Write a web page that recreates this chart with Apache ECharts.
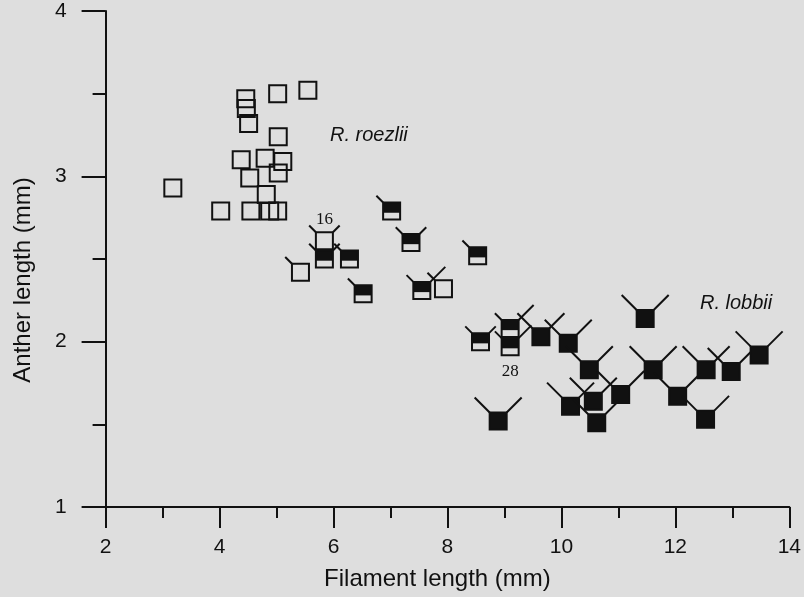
<!DOCTYPE html>
<html>
<head>
<meta charset="utf-8">
<script src="https://cdn.jsdelivr.net/npm/echarts@6/dist/echarts.min.js"></script>
<style>
html,body{margin:0;padding:0;background:#dedede}
#main{width:804px;height:597px}
</style>
</head>
<body>
<div id="main"></div>
<script>
// R. roezlii - open squares (left/right = relative whisker length, 0 = none)
var roezliiX = [4.46, 4.47, 4.51, 5.02, 5.55, 5.03, 4.38, 4.80, 5.11, 5.03, 4.53, 3.18, 4.82, 4.02, 4.55, 4.88, 5.02, 5.84, 5.42, 7.93];
var roezliiY = [3.47, 3.41, 3.32, 3.50, 3.52, 3.24, 3.10, 3.11, 3.09, 3.02, 2.99, 2.93, 2.89, 2.79, 2.79, 2.79, 2.79, 2.61, 2.42, 2.32];
var roezliiL = [0, 0, 0, 0, 0, 0, 0, 0, 0, 0, 0, 0, 0, 0, 0, 0, 0, 0.45, 0.45, 0.5];
var roezliiR = [0, 0, 0, 0, 0, 0, 0, 0, 0, 0, 0, 0, 0, 0, 0, 0, 0, 0.45, 0, 0];
var roezliiTag = ['', '', '', '', '', '', '', '', '', '', '', '', '', '', '', '', '', '16', '', ''];

// intermediates - half filled squares
var hybridX = [5.84, 6.28, 7.02, 7.36, 6.52, 7.55, 8.53, 8.58, 9.10, 9.10];
var hybridY = [2.50, 2.50, 2.79, 2.60, 2.29, 2.31, 2.52, 2.00, 2.08, 1.97];
var hybridL = [0.45, 0.45, 0.45, 0.45, 0.45, 0.45, 0.45, 0.45, 0.45, 0.45];
var hybridR = [0.45, 0, 0, 0.45, 0, 1.0, 0, 0.45, 1.0, 0.85];
var hybridTag = ['', '', '', '', '', '', '', '', '', '28'];

// R. lobbii - filled squares
var lobbiiX = [8.89, 9.64, 10.12, 10.49, 10.16, 10.56, 10.62, 11.04, 11.47, 11.61, 12.04, 12.54, 12.98, 13.47, 12.53];
var lobbiiY = [1.52, 2.03, 1.99, 1.83, 1.61, 1.64, 1.51, 1.68, 2.14, 1.83, 1.67, 1.83, 1.82, 1.92, 1.53];
var lobbiiL = [1, 1, 1, 1, 1, 1, 1, 1, 1, 1, 1, 1, 1, 1, 1];
var lobbiiR = [1, 1, 1, 1, 1, 1, 1, 1, 1, 1, 1, 1, 1, 1, 1];

var xTicks = [2, 4, 6, 8, 10, 12, 14];
var yTicks = [1, 2, 3, 4];

var INK = '#111';
var SIZE = 17;   // square side in px
var ARM = 15;    // full whisker length (px in x and y)

function rows(xs, ys, ls, rs) {
  var out = [];
  for (var i = 0; i < xs.length; i++) out.push([xs[i], ys[i], ls[i], rs[i]]);
  return out;
}

function glyph(kind, tags, tagDy) {
  return function (params, api) {
    var c = api.coord([api.value(0), api.value(1)]);
    var x0 = c[0] - SIZE / 2, y0 = c[1] - SIZE / 2;
    var l = api.value(2), r = api.value(3);
    var kids = [];
    var ls = {stroke: INK, lineWidth: 2};
    if (l > 0) kids.push({type: 'line', shape: {x1: x0, y1: y0, x2: x0 - l * ARM, y2: y0 - l * ARM}, style: ls});
    if (r > 0) kids.push({type: 'line', shape: {x1: x0 + SIZE, y1: y0, x2: x0 + SIZE + r * ARM, y2: y0 - r * ARM}, style: ls});
    if (kind === 'half') {
      kids.push({type: 'rect', shape: {x: x0, y: y0, width: SIZE, height: SIZE * 0.6}, style: {fill: INK}});
    }
    kids.push({type: 'rect', shape: {x: x0, y: y0, width: SIZE, height: SIZE},
      style: {fill: kind === 'full' ? INK : 'none', stroke: INK, lineWidth: 2}});
    var t = tags ? tags[params.dataIndex] : '';
    if (t) {
      kids.push({type: 'text', x: c[0], y: c[1] + tagDy,
        style: {text: t, fill: INK, font: '17px "Liberation Serif"', align: 'center', verticalAlign: 'middle'}});
    }
    return {type: 'group', children: kids};
  };
}

var chart = echarts.init(document.getElementById('main'));

var option = {
  backgroundColor: '#dedede',
  animation: false,
  grid: {left: 105.6, right: 6, top: 11, bottom: 90},
  xAxis: {
    type: 'value', min: xTicks[0], max: xTicks[xTicks.length - 1], interval: 2,
    name: 'Filament length (mm)', nameLocation: 'middle', nameGap: 60,
    nameTextStyle: {fontSize: 24, color: INK, fontFamily: 'Liberation Sans', padding: [0, 20, 0, 0]},
    axisLine: {show: true, onZero: false, lineStyle: {color: INK, width: 2}},
    axisTick: {show: true, length: 21, lineStyle: {color: INK, width: 2}},
    minorTick: {show: true, splitNumber: 2, length: 11, lineStyle: {color: INK, width: 2}},
    splitLine: {show: false},
    axisLabel: {fontSize: 21, color: INK, margin: 30, fontFamily: 'Liberation Sans'}
  },
  yAxis: {
    type: 'value', min: yTicks[0], max: yTicks[yTicks.length - 1], interval: 1,
    name: 'Anther length (mm)', nameLocation: 'middle', nameGap: 70,
    nameTextStyle: {fontSize: 24, color: INK, fontFamily: 'Liberation Sans', padding: [0, 42, 0, 0]},
    axisLine: {show: true, onZero: false, lineStyle: {color: INK, width: 2}},
    axisTick: {show: true, length: 24, lineStyle: {color: INK, width: 2}},
    minorTick: {show: true, splitNumber: 2, length: 13, lineStyle: {color: INK, width: 2}},
    splitLine: {show: false},
    axisLabel: {fontSize: 21, color: INK, margin: 39, fontFamily: 'Liberation Sans'}
  },
  graphic: [
    {type: 'text', x: 330, y: 135, style: {text: 'R. roezlii', fill: INK, font: 'italic 20px "Liberation Sans"', verticalAlign: 'middle'}},
    {type: 'text', x: 700, y: 303, style: {text: 'R. lobbii', fill: INK, font: 'italic 20px "Liberation Sans"', verticalAlign: 'middle'}}
  ],
  series: [
    {name: 'R. roezlii', type: 'custom', renderItem: glyph('open', roezliiTag, -21),
      encode: {x: 0, y: 1}, data: rows(roezliiX, roezliiY, roezliiL, roezliiR)},
    {name: 'intermediate', type: 'custom', renderItem: glyph('half', hybridTag, 25),
      encode: {x: 0, y: 1}, data: rows(hybridX, hybridY, hybridL, hybridR)},
    {name: 'R. lobbii', type: 'custom', renderItem: glyph('full', null, 0),
      encode: {x: 0, y: 1}, data: rows(lobbiiX, lobbiiY, lobbiiL, lobbiiR)}
  ]
};
chart.setOption(option);
</script>
</body>
</html>
